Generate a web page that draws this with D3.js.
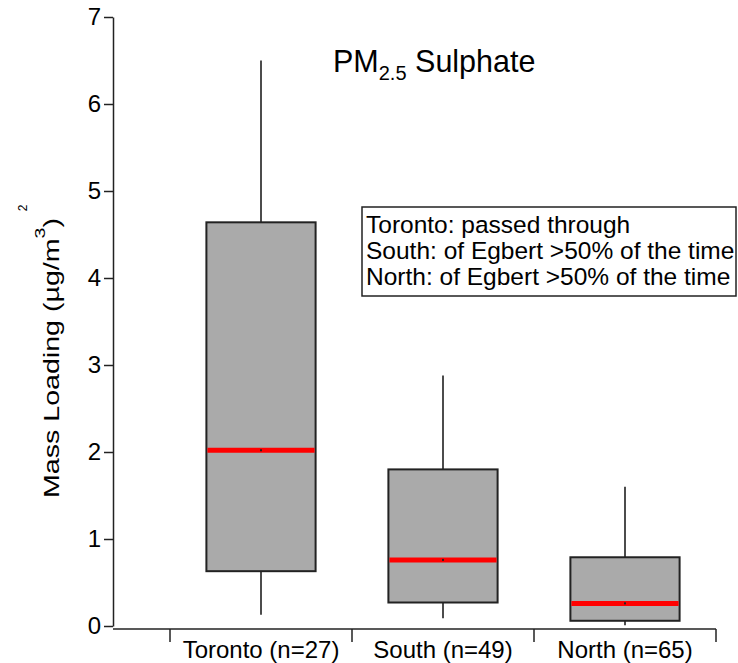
<!DOCTYPE html>
<html>
<head>
<meta charset="utf-8">
<script src="https://cdn.jsdelivr.net/npm/d3@7"></script>
<style>
  body { margin: 0; background: #fff; }
  svg { display: block; font-family: Arial, "Liberation Sans", sans-serif; }
</style>
</head>
<body>
<svg id="chart" width="738" height="663"></svg>
<script>
const categories = ["Toronto (n=27)", "South (n=49)", "North (n=65)"];
const whiskerLow  = [0.13, 0.09, 0.01];
const q1          = [0.63, 0.27, 0.06];
const medians     = [2.02, 0.76, 0.26];
const q3          = [4.64, 1.80, 0.79];
const whiskerHigh = [6.50, 2.88, 1.60];
const yTicks = [0, 1, 2, 3, 4, 5, 6, 7];
const legendLines = ["Toronto: passed through", "South: of Egbert >50% of the time", "North: of Egbert >50% of the time"];

const FONT = "Arial, 'Liberation Sans', sans-serif";
const svg = d3.select("#chart");
const y = d3.scaleLinear().domain([0, 7]).range([626, 17]);
const x = d3.scaleBand().domain(categories).range([170, 716]).paddingInner(0).paddingOuter(0);
const boxW = x.bandwidth() * 0.6;

// Y axis
const yAxis = svg.append("g").attr("transform", "translate(113,0)")
  .call(d3.axisLeft(y).tickValues(yTicks).tickSize(9).tickSizeOuter(0).tickFormat(d3.format("d")));
yAxis.select(".domain").attr("stroke", "#222").attr("stroke-width", 1.5);
yAxis.selectAll(".tick line").attr("stroke", "#222").attr("stroke-width", 1.5);
yAxis.selectAll(".tick text").attr("font-size", 24).attr("fill", "#000").attr("x", -12)
  .attr("font-family", FONT);

// X axis (separate, offset)
const xAxis = svg.append("g").attr("transform", "translate(0,629)")
  .call(d3.axisBottom(x).tickSize(0).tickPadding(12));
xAxis.select(".domain").remove();
xAxis.selectAll(".tick text").attr("font-size", 24).attr("fill", "#000")
  .attr("font-family", FONT);
xAxis.append("line").attr("x1", 113).attr("x2", x.range()[1]).attr("y1", 0).attr("y2", 0)
  .attr("stroke", "#222").attr("stroke-width", 1.5);
const bounds = categories.map(c => x(c)).concat([x(categories[categories.length - 1]) + x.bandwidth()]);
xAxis.selectAll(".bound").data(bounds).join("line").attr("class", "bound")
  .attr("x1", d => d).attr("x2", d => d).attr("y1", 0).attr("y2", 13)
  .attr("stroke", "#222").attr("stroke-width", 1.5);

// Boxes
const data = categories.map((c, i) => ({c, lo: whiskerLow[i], q1: q1[i], med: medians[i], q3: q3[i], hi: whiskerHigh[i]}));
const g = svg.append("g");
const cx = d => x(d.c) + x.bandwidth() / 2;
g.selectAll(".wh").data(data).join("line").attr("class", "wh")
  .attr("x1", cx).attr("x2", cx).attr("y1", d => y(d.q3)).attr("y2", d => y(d.hi))
  .attr("stroke", "#111").attr("stroke-width", 1.5);
g.selectAll(".wl").data(data).join("line").attr("class", "wl")
  .attr("x1", cx).attr("x2", cx).attr("y1", d => y(d.q1)).attr("y2", d => y(d.lo))
  .attr("stroke", "#111").attr("stroke-width", 1.5);
g.selectAll(".box").data(data).join("rect").attr("class", "box")
  .attr("x", d => cx(d) - boxW / 2).attr("width", boxW)
  .attr("y", d => y(d.q3)).attr("height", d => y(d.q1) - y(d.q3))
  .attr("fill", "#aaaaaa").attr("stroke", "#222").attr("stroke-width", 2);
g.selectAll(".med").data(data).join("line").attr("class", "med")
  .attr("x1", d => cx(d) - boxW / 2 + 1).attr("x2", d => cx(d) + boxW / 2 - 1)
  .attr("y1", d => y(d.med)).attr("y2", d => y(d.med))
  .attr("stroke", "#ff0000").attr("stroke-width", 5);
g.selectAll(".dot").data(data).join("rect").attr("class", "dot")
  .attr("x", d => cx(d) - 1).attr("y", d => y(d.med) - 1).attr("width", 2).attr("height", 2)
  .attr("fill", "#222");

// Title
const title = svg.append("text").attr("x", 333).attr("y", 72).attr("font-size", 30.5).attr("fill", "#000");
title.append("tspan").text("PM");
title.append("tspan").attr("font-size", 20).attr("dy", 8).text("2.5");
title.append("tspan").attr("dy", -8).text(" Sulphate");

// Legend box
const lg = svg.append("g");
lg.append("rect").attr("x", 362).attr("y", 207).attr("width", 374).attr("height", 89)
  .attr("fill", "#fff").attr("stroke", "#222").attr("stroke-width", 1.5);
lg.selectAll("text").data(legendLines).join("text")
  .attr("x", 366).attr("y", (d, i) => 233 + i * 26).attr("font-size", 24.5).attr("fill", "#000").text(d => d);

// Y label
const yl = svg.append("text").attr("transform", "translate(59,358) rotate(-90) scale(1.3,1)")
  .attr("text-anchor", "middle").attr("font-size", 22).attr("fill", "#000");
yl.append("tspan").text("Mass Loading (µg/m");
yl.append("tspan").attr("font-size", 15).attr("dy", -14).text("3");
yl.append("tspan").attr("dy", 14).text(")");
svg.append("text").attr("transform", "translate(27,208) rotate(-90)")
  .attr("text-anchor", "middle").attr("font-size", 12).attr("fill", "#000").text("2");
</script>
</body>
</html>
